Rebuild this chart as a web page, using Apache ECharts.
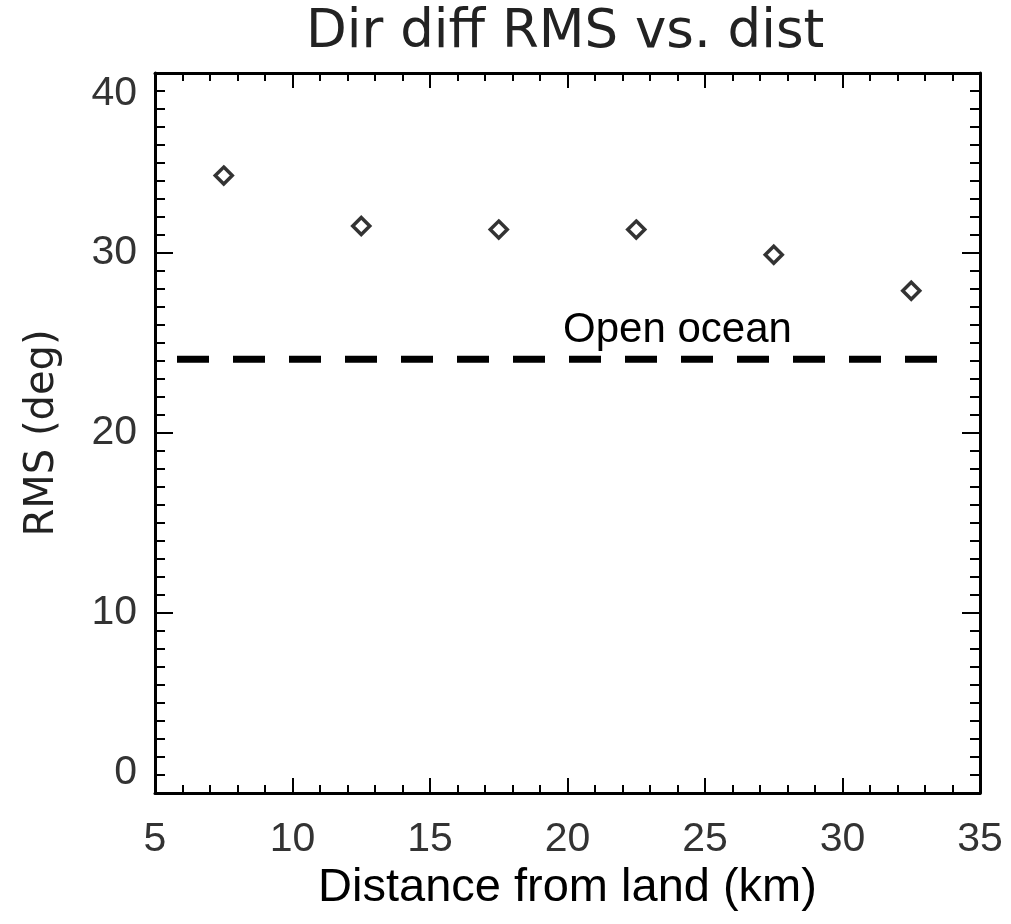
<!DOCTYPE html>
<html>
<head>
<meta charset="utf-8">
<title>Dir diff RMS vs. dist</title>
<script src="https://cdn.jsdelivr.net/npm/echarts@6/dist/echarts.min.js"></script>
<style>
  html, body { margin: 0; padding: 0; background: #fff; }
  #chart { width: 1011px; height: 924px; }
</style>
</head>
<body>
<div id="chart"></div>
<script>
// Distance bins (km) and the RMS direction difference in each bin (deg)
const distances = [7.5, 12.5, 17.5, 22.5, 27.5, 32.5];
const rmsDeg = [34.3, 31.5, 31.3, 31.3, 29.9, 27.9];

// Open-ocean reference level and the distance span it is drawn over
const openOceanRms = 24.1;
const openOceanSpan = [5.8, 34];
const openOceanLabel = 'Open ocean';
const openOceanLabelX = 24;

// Axis ranges
const xRange = [5, 35, 5];
const yRange = [0, 40, 10];

const tickFont = 'Liberation Sans, Arial, sans-serif';
const hersheyLike = 'DejaVu Sans, sans-serif';

const frameLine = { show: true, onZero: false, lineStyle: { color: '#000', width: 3 } };

function xAxisDef(pos, withLabels) {
  return {
    type: 'value', position: pos,
    min: xRange[0], max: xRange[1], interval: xRange[2],
    axisLine: frameLine,
    axisTick: { show: true, inside: true, length: 15, lineStyle: { color: '#000', width: 2 } },
    minorTick: { show: true, splitNumber: 5, length: 8, lineStyle: { color: '#000', width: 2 } },
    splitLine: { show: false },
    axisLabel: withLabels ? {
      show: true, margin: 26, fontFamily: tickFont, fontSize: 41, color: '#333'
    } : { show: false },
    name: withLabels ? 'Distance from land (km)' : '',
    nameLocation: 'middle', nameGap: 66,
    nameTextStyle: { fontFamily: tickFont, fontSize: 47, color: '#000' }
  };
}

function yAxisDef(pos, withLabels) {
  return {
    type: 'value', position: pos,
    min: yRange[0], max: yRange[1], interval: yRange[2],
    axisLine: frameLine,
    axisTick: { show: true, inside: true, length: 18, lineStyle: { color: '#000', width: 2 } },
    minorTick: { show: true, splitNumber: 10, length: 10, lineStyle: { color: '#000', width: 2 } },
    splitLine: { show: false },
    axisLabel: withLabels ? {
      show: true, margin: 18, fontFamily: tickFont, fontSize: 41, color: '#333',
      verticalAlignMinLabel: 'bottom', verticalAlignMaxLabel: 'top'
    } : { show: false },
    name: withLabels ? 'RMS (deg)' : '',
    nameLocation: 'middle', nameGap: 92, nameRotate: 90,
    nameTextStyle: { fontFamily: hersheyLike, fontSize: 40, color: '#222' }
  };
}

const chart = echarts.init(document.getElementById('chart'), null, { renderer: 'canvas' });

chart.setOption({
  backgroundColor: '#fff',
  animation: false,
  title: {
    text: 'Dir diff RMS vs. dist',
    left: 301, top: 2,
    textStyle: { fontFamily: hersheyLike, fontSize: 53, fontWeight: 'normal', color: '#222' }
  },
  grid: { left: 155, right: 31, top: 73, bottom: 131, containLabel: false },
  xAxis: [xAxisDef('bottom', true), xAxisDef('top', false)],
  yAxis: [yAxisDef('left', true), yAxisDef('right', false)],
  series: [
    {
      type: 'line',
      name: 'open ocean',
      data: openOceanSpan.map(x => [x, openOceanRms]),
      symbol: 'none',
      lineStyle: { color: '#000', width: 7, type: [32, 24], cap: 'butt' },
      z: 2,
      markPoint: {
        symbol: 'circle', symbolSize: 0,
        data: [{ coord: [openOceanLabelX, openOceanRms] }],
        label: {
          show: true, formatter: openOceanLabel, position: 'top', distance: 8,
          fontFamily: tickFont, fontSize: 42, color: '#000'
        }
      }
    },
    {
      type: 'scatter',
      name: 'RMS',
      data: distances.map((d, i) => [d, rmsDeg[i]]),
      symbol: 'diamond',
      symbolSize: 17,
      itemStyle: { color: '#fff', borderColor: '#000', borderWidth: 3.5 },
      z: 3
    }
  ]
});
</script>
</body>
</html>
